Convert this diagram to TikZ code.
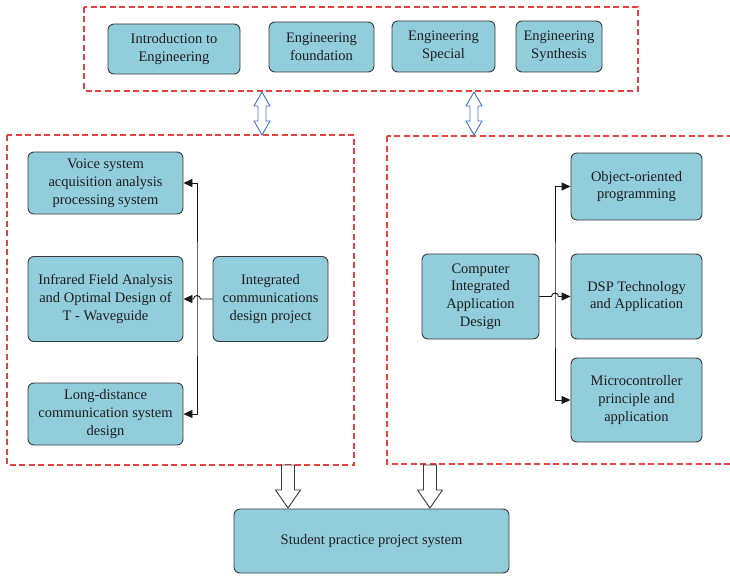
\documentclass[tikz,border=0pt]{standalone}
\usepackage{fontspec}
\setmainfont{Liberation Serif}
\usetikzlibrary{arrows.meta}
\definecolor{boxfill}{RGB}{146,205,220}
\definecolor{boxline}{RGB}{58,58,58}
\definecolor{dashred}{RGB}{235,64,64}
\definecolor{dblue}{RGB}{68,114,196}
\definecolor{txt}{RGB}{30,30,30}
\tikzset{
  box/.style={draw=boxline, fill=boxfill, rounded corners=6pt, align=center,
    inner sep=2pt, text=txt, line width=0.9pt, font=\fontsize{14.5}{17.8}\selectfont},
  group/.style={draw=dashred, line width=1.1pt, dash pattern=on 6pt off 3.5pt},
  conn/.style={draw=black!90, line width=0.9pt},
  tri/.tip={Triangle[length=9pt,width=8pt]},
  dblarrow/.style={draw=dblue, fill=white, line width=0.9pt, line join=miter},
  hollow/.style={draw=boxline, fill=white, line width=0.9pt, line join=miter}
}
\begin{document}
\begin{tikzpicture}[x=1pt,y=-1pt]
\useasboundingbox (0,0) rectangle (730,575);
% groups
\draw[group] (84,7) rectangle (638,91);
\draw[group] (7,135) rectangle (354,465);
\draw[group] (387,136) rectangle (740,464);
% top boxes
\node[box, minimum width=132pt, minimum height=50pt] (intro) at (174,49) {Introduction to\\Engineering};
\node[box, minimum width=105pt, minimum height=50pt] (found) at (321.5,47) {Engineering\\foundation};
\node[box, minimum width=103pt, minimum height=51pt] (spec) at (443.5,46.5) {Engineering\\Special};
\node[box, minimum width=86pt, minimum height=51pt] (synth) at (559,46.5) {Engineering\\Synthesis};
% left group
\node[box, minimum width=155pt, minimum height=62pt] (voice) at (105.5,183) {Voice system\\acquisition analysis\\processing system};
\node[box, minimum width=155pt, minimum height=85pt] (infra) at (105.5,299) {Infrared Field Analysis\\and Optimal Design of\\T - Waveguide};
\node[box, minimum width=155pt, minimum height=62pt] (long) at (105.5,414) {Long-distance\\communication system\\design};
\node[box, minimum width=115pt, minimum height=85pt] (integ) at (270.5,299) {Integrated\\communications\\design project};
% right group
\node[box, minimum width=117pt, minimum height=85pt] (comp) at (480.5,296.5) {Computer\\Integrated\\Application\\Design};
\node[box, minimum width=131pt, minimum height=67pt] (oop) at (636.5,186.5) {Object-oriented\\programming};
\node[box, minimum width=131pt, minimum height=85pt] (dsp) at (636.5,296.5) {DSP Technology\\and Application};
\node[box, minimum width=131pt, minimum height=84pt] (micro) at (636.5,400) {Microcontroller\\principle and\\application};
% bottom
\node[box, minimum width=275pt, minimum height=64pt] (student) at (371.5,541) {Student practice project system};
% left connectors
\coordinate (lj) at (197,299);
\draw[conn, tri-tri] (voice.east) -| (lj) |- (long.east);
\draw[conn, -tri] (integ.west) -- ([xshift=3.5pt]lj) arc[start angle=0, end angle=180, radius=3.5pt] -- (infra.east);
% right connectors
\coordinate (rj) at (555,296.5);
\draw[conn, tri-tri] (oop.west) -| (rj) |- (micro.west);
\draw[conn, -tri] (comp.east) -- ([xshift=-3.5pt]rj) arc[start angle=180, end angle=0, radius=3.5pt] -- (dsp.west);
% double arrows
\coordinate (da1) at (262,92);
\coordinate (da2) at (474,92);
\foreach \c in {da1,da2}{
  \draw[dblarrow] (\c) -- ++(8,14) -- ++(-4,0) -- ++(0,15) -- ++(4,0) -- ++(-8,14) -- ++(-8,-14) -- ++(4,0) -- ++(0,-15) -- ++(-4,0) -- cycle;
}
% hollow arrows
\coordinate (ha1) at (288,465);
\coordinate (ha2) at (430,465);
\foreach \c in {ha1,ha2}{
  \draw[hollow] ([xshift=-6.5pt]\c) -- ++(13,0) -- ++(0,25) -- ++(6,0) -- ++(-12.5,18) -- ++(-12.5,-18) -- ++(6,0) -- cycle;
}
\end{tikzpicture}
\end{document}
